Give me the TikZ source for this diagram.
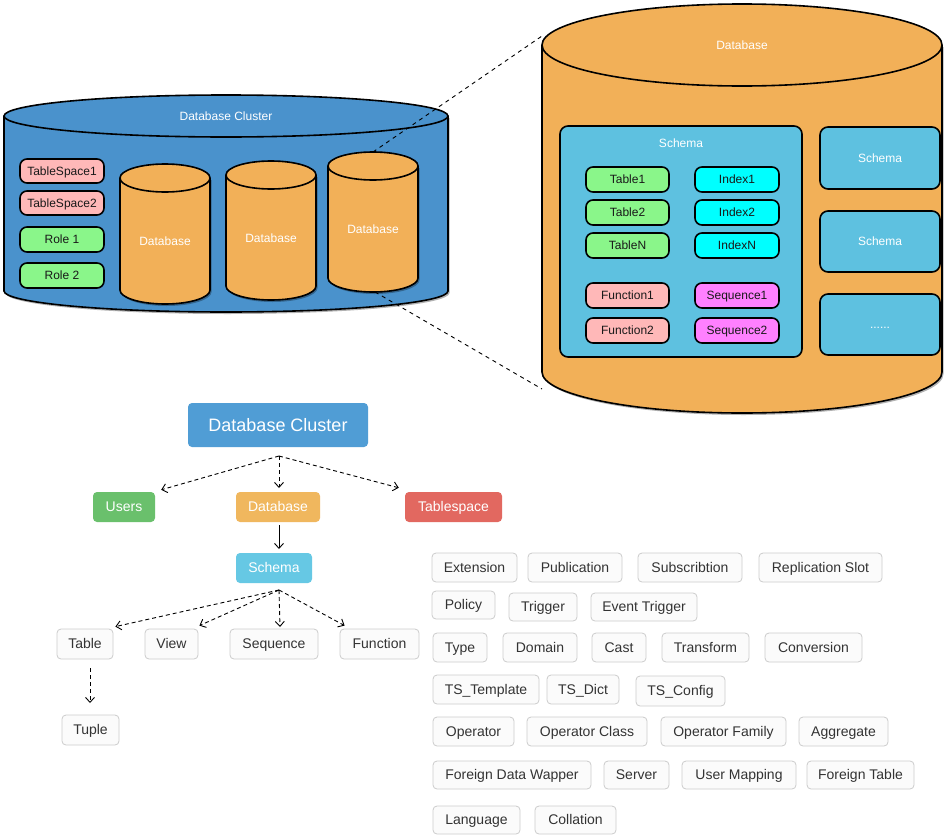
\documentclass[tikz,border=0pt]{standalone}
\usepackage{fontspec}
\setmainfont{Liberation Sans}
\usetikzlibrary{arrows.meta,calc}
\definecolor{clusterblue}{RGB}{74,146,204}
\definecolor{dborange}{RGB}{242,176,88}
\definecolor{schemablue}{RGB}{94,193,224}
\definecolor{boxgreen}{RGB}{138,246,138}
\definecolor{boxpink}{RGB}{255,184,184}
\definecolor{boxcyan}{RGB}{0,255,255}
\definecolor{boxmagenta}{RGB}{255,128,255}
\definecolor{tblue}{RGB}{80,157,213}
\definecolor{tgreen}{RGB}{106,192,108}
\definecolor{torange}{RGB}{240,183,94}
\definecolor{tred}{RGB}{226,104,96}
\definecolor{tschema}{RGB}{102,200,228}
\definecolor{gborder}{RGB}{204,204,204}
\definecolor{gfill}{RGB}{251,251,251}
\definecolor{gtext}{RGB}{51,51,51}
\tikzset{
  shapeline/.style={line width=1.6pt, draw=black},
  smallfont/.style={font=\fontsize{12}{14}\selectfont, text height=10.5pt, text depth=2.5pt},
  midfont/.style={font=\fontsize{14}{16}\selectfont, text height=12pt, text depth=3pt},
  bigfont/.style={font=\fontsize{18}{20}\selectfont, text height=16pt, text depth=4pt},
  upbox/.style={shapeline, rounded corners=7pt, inner sep=0pt, smallfont, text=black!90},
  schemabox/.style={shapeline, fill=schemablue, rounded corners=8pt, inner sep=0pt},
  whitelabel/.style={smallfont, text=white, inner sep=0pt},
  tbox/.style={rounded corners=4pt, inner sep=0pt, text=white, midfont},
  gbox/.style={draw=gborder, fill=gfill, line width=0.8pt, rounded corners=4pt, inner sep=0pt, text=gtext, midfont},
  dasharrow/.style={dashed, dash pattern=on 4pt off 3pt, line width=0.9pt, -{Straight Barb[length=5pt,width=9pt]}},
  solidarrow/.style={line width=0.9pt, -{Straight Barb[length=5pt,width=9pt]}},
  zoomline/.style={dashed, dash pattern=on 4pt off 4pt, line width=0.9pt},
}
% cylinder: cx, top centre y, bottom centre y, rx, ry, colour
\newcommand\mycyl[6]{%
  \fill[black, opacity=0.3] (#1-#4+1.5, -#2-2) -- (#1-#4+1.5,-#3-2) arc[start angle=180,end angle=360,x radius=#4,y radius=#5] -- (#1+#4+1.5,-#2-2) -- cycle;
  \filldraw[fill=#6, shapeline] (#1-#4, -#2) -- (#1-#4,-#3) arc[start angle=180,end angle=360,x radius=#4,y radius=#5] -- (#1+#4,-#2) arc[start angle=0,end angle=180,x radius=#4,y radius=#5] -- cycle;
  \draw[shapeline] (#1+#4,-#2) arc[start angle=0,end angle=-180,x radius=#4,y radius=#5];
}
% box by edges: style, name, x1, x2, y1, y2, text
\newcommand\ebox[7]{%
  \pgfmathsetmacro\bcx{(#3+#4)/2}\pgfmathsetmacro\bcy{-(#5+#6)/2}%
  \pgfmathsetmacro\bw{#4-#3}\pgfmathsetmacro\bh{#6-#5}%
  \node[#1, minimum width=\bw pt, minimum height=\bh pt] (#2) at (\bcx,\bcy) {#7};}
\begin{document}
\begin{tikzpicture}[x=1pt,y=1pt]
\useasboundingbox (0,0) rectangle (947,-835);
\fill[white] (0,0) rectangle (947,-835);

% ---------- cluster cylinder ----------
\mycyl{226}{116}{291}{222}{21}{clusterblue}
\node[whitelabel] (clusterlabel) at (226,-116) {Database Cluster};

\ebox{upbox,fill=boxpink}{ts1}{20}{104}{159}{183}{TableSpace1}
\ebox{upbox,fill=boxpink}{ts2}{20}{104}{191}{215}{TableSpace2}
\ebox{upbox,fill=boxgreen}{role1}{20}{104}{227}{252}{Role 1}
\ebox{upbox,fill=boxgreen}{role2}{20}{104}{263}{288}{Role 2}

\mycyl{165}{178}{290}{45}{14}{dborange}
\node[whitelabel] (db1) at (165,-241) {Database};
\mycyl{271}{175}{286}{45}{14}{dborange}
\node[whitelabel] (db2) at (271,-238) {Database};
\mycyl{373}{166}{278}{45}{14}{dborange}
\node[whitelabel] (db3) at (373,-229) {Database};

% ---------- big database cylinder ----------
\mycyl{742}{45}{372}{200}{41}{dborange}
\node[whitelabel] (bigdb) at (742,-45) {Database};

\ebox{schemabox}{schemamain}{560}{802}{126}{357}{}
\node[whitelabel] (schemalabel) at (681,-143) {Schema};
\ebox{upbox,fill=boxgreen}{table1}{586}{669}{167}{192}{Table1}
\ebox{upbox,fill=boxgreen}{table2}{586}{669}{200}{225}{Table2}
\ebox{upbox,fill=boxgreen}{tablen}{586}{669}{233}{258}{TableN}
\ebox{upbox,fill=boxpink}{func1}{586}{669}{283}{308}{Function1}
\ebox{upbox,fill=boxpink}{func2}{586}{669}{318}{343}{Function2}
\ebox{upbox,fill=boxcyan}{index1}{695}{779}{167}{192}{Index1}
\ebox{upbox,fill=boxcyan}{index2}{695}{779}{200}{225}{Index2}
\ebox{upbox,fill=boxcyan}{indexn}{695}{779}{233}{258}{IndexN}
\ebox{upbox,fill=boxmagenta}{seq1}{695}{779}{283}{308}{Sequence1}
\ebox{upbox,fill=boxmagenta}{seq2}{695}{779}{318}{343}{Sequence2}

\ebox{schemabox}{schema2}{820}{940}{127}{189}{}
\node[whitelabel] at (schema2) {Schema};
\ebox{schemabox}{schema3}{820}{940}{211}{272}{}
\node[whitelabel] at (schema3) {Schema};
\ebox{schemabox}{schema4}{820}{940}{294}{355}{}
\node[whitelabel] at (schema4) {......};

% zoom lines
\coordinate (db3top) at (373,-152);
\coordinate (db3bot) at (375,-292);
\coordinate (bigtl) at (542,-36);
\coordinate (bigbl) at (542,-389);
\draw[zoomline] (db3top) -- (bigtl);
\draw[zoomline] (db3bot) -- (bigbl);

% ---------- tree ----------
\ebox{tbox,fill=tblue,bigfont}{tcluster}{188}{368}{403}{447}{Database Cluster}
\ebox{tbox,fill=tgreen}{users}{93}{155}{492}{522}{Users}
\ebox{tbox,fill=torange}{tdb}{236}{320}{492}{522}{Database}
\ebox{tbox,fill=tred}{tspace}{405}{502}{492}{522}{Tablespace}
\ebox{tbox,fill=tschema}{tschema}{236}{312}{553}{583}{Schema}

\coordinate (fork1) at (279,-456);
\draw[dasharrow] (fork1) -- ([xshift=6pt,yshift=2pt]users.north east);
\draw[dasharrow] (fork1) -- (279,-488);
\draw[dasharrow] (fork1) -- ([xshift=-6pt,yshift=4pt]tspace.north west);
\draw[solidarrow] (279,-525) -- (279,-549);

\ebox{gbox}{ttable}{57}{113}{629}{659}{Table}
\ebox{gbox}{tview}{145}{198}{629}{659}{View}
\ebox{gbox}{tseq}{230}{318}{629}{659}{Sequence}
\ebox{gbox}{tfunc}{340}{419}{629}{659}{Function}
\ebox{gbox}{ttuple}{62}{119}{715}{745}{Tuple}

\coordinate (fork2) at (279,-590);
\draw[dasharrow] (fork2) -- ([xshift=2pt,yshift=2pt]ttable.north east);
\draw[dasharrow] (fork2) -- ([xshift=1pt,yshift=3pt]tview.north east);
\draw[dasharrow] (fork2) -- (280,-627);
\draw[dasharrow] (fork2) -- ([xshift=5pt,yshift=3pt]tfunc.north west);
\draw[dasharrow] (90,-668) -- (90,-703);

% ---------- other objects ----------
\ebox{gbox}{extension}{432}{517}{553}{582}{Extension}
\ebox{gbox}{publication}{528}{622}{553}{582}{Publication}
\ebox{gbox}{subscription}{638}{742}{553}{582}{Subscribtion}
\ebox{gbox}{replslot}{759}{882}{553}{582}{Replication Slot}
\ebox{gbox}{policy}{432}{495}{591}{619}{Policy}
\ebox{gbox}{trigger}{509}{577}{593}{621}{Trigger}
\ebox{gbox}{evtrigger}{591}{697}{593}{621}{Event Trigger}
\ebox{gbox}{type}{433}{487}{633}{662}{Type}
\ebox{gbox}{domain}{503}{577}{633}{662}{Domain}
\ebox{gbox}{cast}{592}{646}{633}{662}{Cast}
\ebox{gbox}{transform}{662}{749}{633}{662}{Transform}
\ebox{gbox}{conversion}{765}{862}{633}{662}{Conversion}
\ebox{gbox}{tstemplate}{433}{539}{675}{704}{TS\_Template}
\ebox{gbox}{tsdict}{547}{619}{675}{704}{TS\_Dict}
\ebox{gbox}{tsconfig}{636}{725}{676}{706}{TS\_Config}
\ebox{gbox}{operator}{433}{514}{717}{746}{Operator}
\ebox{gbox}{opclass}{527}{647}{717}{746}{Operator Class}
\ebox{gbox}{opfamily}{661}{786}{717}{746}{Operator Family}
\ebox{gbox}{aggregate}{799}{888}{717}{746}{Aggregate}
\ebox{gbox}{fdw}{433}{591}{761}{789}{Foreign Data Wapper}
\ebox{gbox}{server}{604}{669}{761}{789}{Server}
\ebox{gbox}{usermapping}{682}{796}{761}{789}{User Mapping}
\ebox{gbox}{foreigntable}{807}{914}{761}{789}{Foreign Table}
\ebox{gbox}{language}{433}{520}{806}{834}{Language}
\ebox{gbox}{collation}{535}{616}{806}{834}{Collation}
\end{tikzpicture}
\end{document}
